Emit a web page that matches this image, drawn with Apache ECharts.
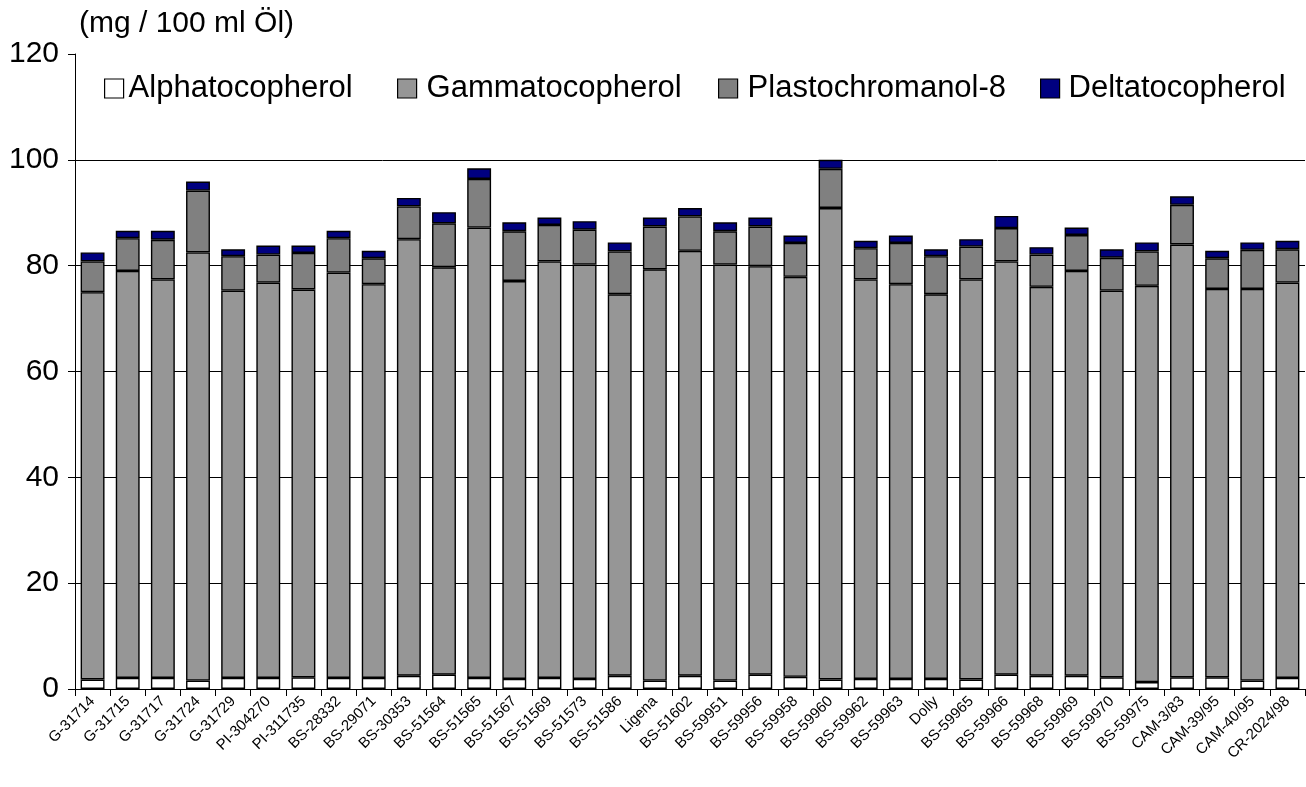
<!DOCTYPE html>
<html>
<head>
<meta charset="utf-8">
<script src="https://cdn.jsdelivr.net/npm/echarts@6/dist/echarts.min.js"></script>
<style>
html,body{margin:0;padding:0;background:#fff;}
#chart{width:1306px;height:787px;}
</style>
</head>
<body>
<div id="chart"></div>
<script>
const categories = ['G-31714','G-31715','G-31717','G-31724','G-31729','PI-304270','PI-311735','BS-28332','BS-29071','BS-30353','BS-51564','BS-51565','BS-51567','BS-51569','BS-51573','BS-51586','Ligena','BS-51602','BS-59951','BS-59956','BS-59958','BS-59960','BS-59962','BS-59963','Dolly','BS-59965','BS-59966','BS-59968','BS-59969','BS-59970','BS-59975','CAM-3/83','CAM-39/95','CAM-40/95','CR-2024/98'];
const alpha = [1.8,2.1,2.1,1.6,2.1,2.1,2.2,2.1,2.1,2.5,2.7,2.1,1.9,2.1,1.9,2.5,1.6,2.5,1.6,2.7,2.3,1.8,1.9,1.9,1.9,1.8,2.7,2.5,2.5,2.2,1.3,2.2,2.2,1.6,2.1];
const gamma = [73.2,76.9,75.3,80.9,73.2,74.7,73.3,76.6,74.4,82.5,77.0,85.1,75.2,78.7,78.3,72.1,77.7,80.3,78.6,77.2,75.6,89.1,75.5,74.6,72.7,75.6,78.1,73.5,76.5,73.1,74.9,81.8,73.4,74.0,74.7];
const plasto = [5.8,6.2,7.5,11.7,6.5,5.3,6.9,6.5,4.9,6.2,8.3,9.2,9.4,6.9,6.6,8.1,8.1,6.5,6.3,7.5,6.4,7.4,5.9,7.8,7.2,6.2,6.3,6.1,6.8,6.2,6.5,7.5,5.8,7.4,6.3];
const delta = [1.7,1.4,1.7,1.7,1.3,1.7,1.4,1.4,1.4,1.6,2.1,2.0,1.7,1.4,1.6,1.7,1.7,1.6,1.7,1.7,1.4,1.7,1.4,1.4,1.3,1.4,2.3,1.4,1.4,1.6,1.7,1.6,1.4,1.4,1.6];
const seriesNames = ['Alphatocopherol','Gammatocopherol','Plastochromanol-8','Deltatocopherol'];
const seriesColors = ['#ffffff','#969696','#808080','#000080'];
const yTicks = [0,20,40,60,80,100,120];

const chart = echarts.init(document.getElementById('chart'), null, {renderer:'canvas'});
const font = 'Arial, "Liberation Sans", sans-serif';
const dataSets = [alpha, gamma, plasto, delta];
const legendLefts = [104, 397, 718, 1040];
const legendPads = [0, 5, 5, 4];
chart.setOption({
  animation:false,
  backgroundColor:'#ffffff',
  title:{text:'(mg / 100 ml Öl)', left:74, top:4, textStyle:{fontFamily:font, fontSize:30, fontWeight:'normal', color:'#000'}},
  legend: seriesNames.map(function(n,i){
    return {
      data:[n], left:legendLefts[i], top:73, padding:0,
      itemWidth:19, itemHeight:19, icon:'rect',
      itemStyle:{borderColor:'#000', borderWidth:1.2},
      textStyle:{fontFamily:font, fontSize:31, lineHeight:31, color:'#000', padding:[0,0,0,legendPads[i]]}
    };
  }),
  grid:{left:75, right:1, top:54, bottom:98, containLabel:false},
  xAxis:{
    type:'category', data:categories,
    axisLine:{lineStyle:{color:'#000', width:1}},
    axisTick:{show:true, alignWithLabel:false, length:7, lineStyle:{color:'#000'}},
    axisLabel:{rotate:45, interval:0, fontFamily:font, fontSize:15, color:'#000', margin:10}
  },
  yAxis:{
    type:'value', min:0, max:120, interval:20,
    axisLine:{show:true, lineStyle:{color:'#000', width:1}},
    axisTick:{show:true, length:7, lineStyle:{color:'#000'}},
    axisLabel:{fontFamily:font, fontSize:30, color:'#000', margin:16, formatter:function(v){return yTicks.indexOf(v)>=0?String(v):'';}},
    splitLine:{show:true, lineStyle:{color:['#000','#000','#000','#000','#000','#000','rgba(0,0,0,0)'], width:1}}
  },
  series: seriesNames.map(function(n,i){
    return {
      name:n, type:'bar', stack:'total', data:dataSets[i],
      barCategoryGap:'32%',
      itemStyle:{color:seriesColors[i], borderColor:'#000', borderWidth:1.4}
    };
  })
});
</script>
</body>
</html>
